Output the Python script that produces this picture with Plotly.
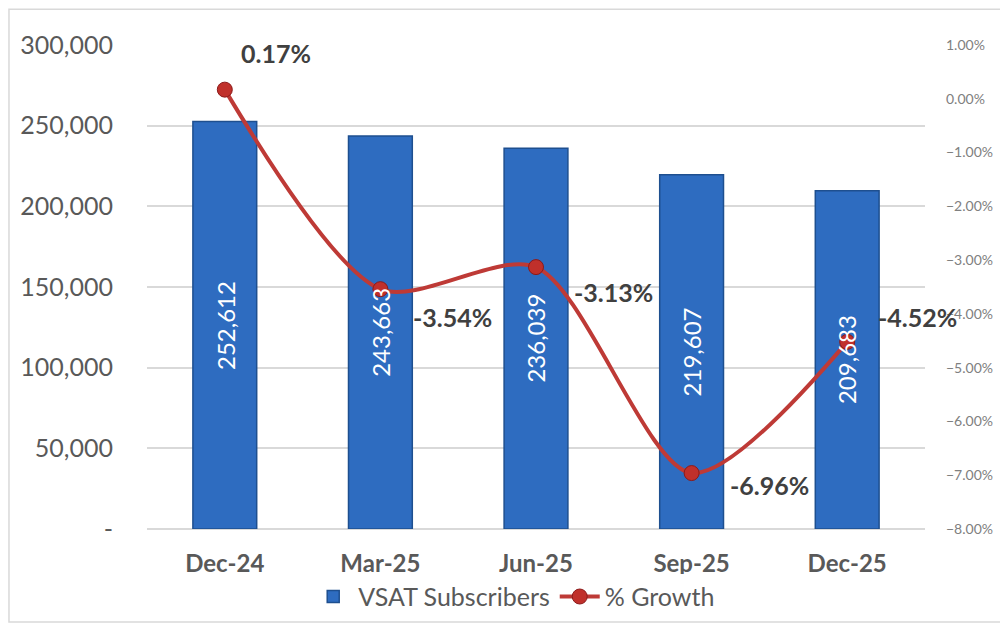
import plotly.graph_objects as go

# chart data
quarters = ["Dec-24", "Mar-25", "Jun-25", "Sep-25", "Dec-25"]
subscribers = [252612, 243663, 236039, 219607, 209683]
growth = [0.0017, -0.0354, -0.0313, -0.0696, -0.0452]
growth_labels = ["0.17%", "-3.54%", "-3.13%", "-6.96%", "-4.52%"]

left_ticks = [0, 50000, 100000, 150000, 200000, 250000, 300000]
left_ticktext = ["-", "50,000", "100,000", "150,000", "200,000", "250,000", "300,000"]

FONT = "Lato, 'Open Sans', sans-serif"

fig = go.Figure()

fig.add_trace(go.Bar(
    x=quarters,
    y=subscribers,
    name="VSAT Subscribers",
    marker=dict(color="#2E6CC0", line=dict(color="#1E4F8F", width=1.5)),
    width=0.41,
    yaxis="y",
))

fig.add_trace(go.Scatter(
    x=quarters,
    y=growth,
    name="% Growth",
    mode="lines+markers",
    line=dict(color="#BE3A36", width=4, shape="spline", smoothing=0.8),
    marker=dict(color="#C0302B", size=15, line=dict(color="#8B1A1A", width=1)),
    yaxis="y2",
))

# value labels inside the bars (drawn above the line, as in the original)
for q, v in zip(quarters, subscribers):
    fig.add_annotation(
        x=q, y=v / 2, yref="y", text=f"{v:,}", textangle=-90, showarrow=False,
        font=dict(size=24, color="white", family=FONT),
    )

# percentage labels next to the markers
offsets = [(51, 37), (72, -28), (77, -25), (78, -12), (70, 25)]
for q, g, lab, (dx, dy) in zip(quarters, growth, growth_labels, offsets):
    fig.add_annotation(
        x=q, y=g, yref="y2", text=f"<b>{lab}</b>", showarrow=False,
        xshift=dx, yshift=dy,
        font=dict(size=25, color="#404040", family=FONT),
    )

fig.update_layout(
    width=1008,
    height=628,
    margin=dict(l=139, r=91, t=37, b=107, autoexpand=False),
    paper_bgcolor="white",
    plot_bgcolor="white",
    font=dict(family=FONT, color="#595959"),
    xaxis=dict(
        range=[-0.5, 4.5],
        tickfont=dict(size=24, color="#595959", family=FONT, weight="bold"),
        ticklabelstandoff=18,
        showline=False,
        showgrid=False,
        automargin=False,
    ),
    yaxis=dict(
        range=[0, 300000],
        tickvals=left_ticks,
        ticktext=left_ticktext,
        tickfont=dict(size=25, color="#595959"),
        showgrid=True,
        gridcolor="#D9D9D9",
        gridwidth=1.5,
        zeroline=True,
        zerolinecolor="#D9D9D9",
        zerolinewidth=2,
        ticklabelstandoff=33,
        automargin=False,
    ),
    yaxis2=dict(
        overlaying="y",
        side="right",
        range=[-0.08, 0.01],
        dtick=0.01,
        tick0=0,
        tickformat=".2%",
        tickfont=dict(size=14, color="#808080"),
        showgrid=False,
        zeroline=False,
        ticklabelstandoff=20,
        automargin=False,
    ),
    legend=dict(
        orientation="h",
        x=0.472,
        xanchor="center",
        y=-0.14,
        yanchor="middle",
        font=dict(size=25, color="#595959"),
        traceorder="normal",
        itemwidth=40,
    ),
    showlegend=True,
)

# light outer border
fig.add_shape(type="rect", xref="paper", yref="paper",
              x0=-0.1774, x1=1.103, y0=-0.192, y1=1.074,
              line=dict(color="#D9D9D9", width=1.5), layer="below")

fig.write_html("out.html")
